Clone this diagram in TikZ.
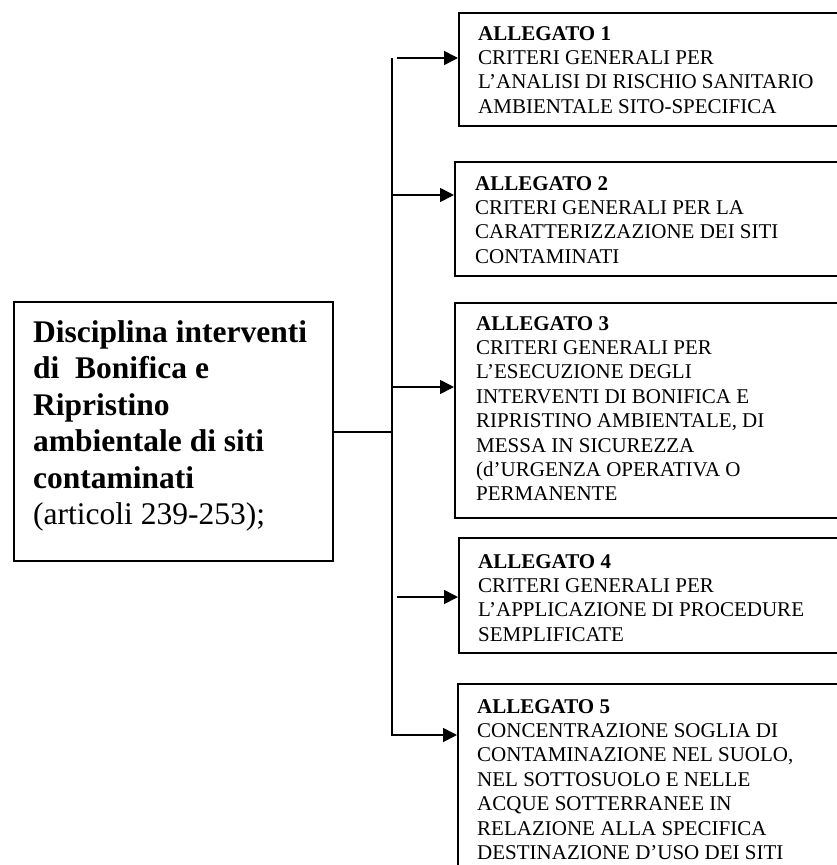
\documentclass[tikz,border=0pt]{standalone}
\usepackage{fontspec}
\setmainfont{Liberation Serif}
\usetikzlibrary{arrows.meta}
\begin{document}
\begin{tikzpicture}[x=1pt,y=-1pt,
  box/.style={draw, line width=1.7pt, anchor=north west, inner sep=0pt},
  txt/.style={anchor=base west, inner sep=0pt, font=\fontsize{21}{24.4}\selectfont},
  conn/.style={line width=1.6pt},
  arr/.style={line width=1.6pt, -{Triangle[length=14pt,width=14pt]}}]
\useasboundingbox (0,0) rectangle (837,865);
\clip (0,0) rectangle (837,865);
% left box
\node[box, minimum width=319pt, minimum height=259pt] (L) at (13,301) {};
\node[anchor=base west, inner sep=0pt] (Lt) at (33,342) {\parbox[t]{300pt}{\fontsize{31.5}{36.5}\selectfont\raggedright
 \textbf{Disciplina interventi}\\
 \textbf{di\ \ Bonifica e}\\
 \textbf{Ripristino}\\
 \textbf{ambientale di siti}\\
 \textbf{contaminati}\\
 (articoli 239-253);}};
% right boxes
\node[box, minimum width=420pt, minimum height=113pt] (a1) at (458,12) {};
\node[txt] (t1) at (478,40) {\parbox[t]{380pt}{\raggedright\textbf{ALLEGATO 1}\\CRITERI GENERALI PER\\L’ANALISI DI RISCHIO SANITARIO\\AMBIENTALE SITO-SPECIFICA}};
\node[box, minimum width=420pt, minimum height=114pt] (a2) at (454,161) {};
\node[txt] (t2) at (475,190) {\parbox[t]{380pt}{\raggedright\textbf{ALLEGATO 2}\\CRITERI GENERALI PER LA\\CARATTERIZZAZIONE DEI SITI\\CONTAMINATI}};
\node[box, minimum width=420pt, minimum height=215pt] (a3) at (454,302) {};
\node[txt] (t3) at (476,330) {\parbox[t]{380pt}{\raggedright\textbf{ALLEGATO 3}\\CRITERI GENERALI PER\\L’ESECUZIONE DEGLI\\INTERVENTI DI BONIFICA E\\RIPRISTINO AMBIENTALE, DI\\MESSA IN SICUREZZA\\(d’URGENZA OPERATIVA O\\PERMANENTE}};
\node[box, minimum width=420pt, minimum height=115pt] (a4) at (458,537) {};
\node[txt] (t4) at (478,568) {\parbox[t]{380pt}{\raggedright\textbf{ALLEGATO 4}\\CRITERI GENERALI PER\\L’APPLICAZIONE DI PROCEDURE\\SEMPLIFICATE}};
\node[box, minimum width=420pt, minimum height=240pt] (a5) at (457,683) {};
\node[txt] (t5) at (477,713) {\parbox[t]{380pt}{\raggedright\textbf{ALLEGATO 5}\\CONCENTRAZIONE SOGLIA DI\\CONTAMINAZIONE NEL SUOLO,\\NEL SOTTOSUOLO E NELLE\\ACQUE SOTTERRANEE IN\\RELAZIONE ALLA SPECIFICA\\DESTINAZIONE D’USO DEI SITI}};
% connectors
\coordinate (h) at (392,432);
\coordinate (vtop) at (392,58);
\coordinate (s1) at (397,58);
\coordinate (s2) at (392,195);
\coordinate (s3) at (392,387);
\coordinate (s4) at (397,597);
\coordinate (s5) at (392,735);
\draw[conn] (L.east |- h) -- (h);
\draw[arr] (vtop) -- (s5) -- (a5.west |- s5);
\draw[arr] (s1) -- (a1.west |- s1);
\draw[arr] (s2) -- (a2.west |- s2);
\draw[arr] (s3) -- (a3.west |- s3);
\draw[arr] (s4) -- (a4.west |- s4);
\end{tikzpicture}
\end{document}
